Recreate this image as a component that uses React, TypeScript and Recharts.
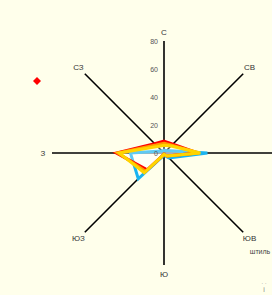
import React from 'react';
import {
  RadarChart,
  Radar,
  PolarGrid,
  PolarAngleAxis,
  PolarRadiusAxis,
  Legend,
  Customized,
} from 'recharts';

const directions = ['С', 'СВ', 'В', 'ЮВ', 'Ю', 'ЮЗ', 'З', 'СЗ'];
const seriesRed = [8.5, 9, 24, 3, 1, 17, 34, 9.5];
const seriesOrange = [7, 8, 25, 3, 1, 18.5, 33, 8];
const seriesYellow = [5.5, 7, 26, 3, 1, 20, 32, 6.5];
const seriesCyan = [2, 2.5, 31, 5, 1.5, 26, 24, 2];
const radiusTicks = [0, 20, 40, 60, 80];
const calmLabel = 'штиль';

const data = directions.map((d, i) => ({
  dir: d,
  red: seriesRed[i],
  orange: seriesOrange[i],
  yellow: seriesYellow[i],
  cyan: seriesCyan[i],
}));

const W = 272;
const H = 295;
const CX = 164;
const CY = 153;
const R = 112;
const FONT = '"Liberation Sans", Arial, sans-serif';

const AngleTick = (props: any) => {
  const a = (props.payload.coordinate * Math.PI) / 180;
  const r = R + 9;
  const x = CX + r * Math.cos(a);
  const y = CY - r * Math.sin(a);
  if (x > W - 2 || x < 2 || y < 2 || y > H - 2) return null;
  return (
    <text x={x} y={y} textAnchor="middle" dominantBaseline="central" fontSize={8} fill="#333" fontFamily={FONT}>
      {props.payload.value}
    </text>
  );
};

const RadiusTick = (props: any) => (
  <text x={props.x - 6} y={props.y} textAnchor="end" dominantBaseline="central" fontSize={7} fill="#555" fontFamily={FONT}>
    {props.payload.value}
  </text>
);

const LegendDiamond = () => (
  <svg width={10} height={10} style={{ display: 'block' }}>
    <path d="M5 1 L9 5 L5 9 L1 5 Z" fill="#ff0000" />
  </svg>
);

const CalmText = () => (
  <g fontFamily={FONT} fill="#444">
    <text x={260} y={251} textAnchor="middle" dominantBaseline="central" fontSize={7}>
      {calmLabel}
    </text>
    <text x={264} y={283} textAnchor="middle" dominantBaseline="central" fontSize={6} fill="#888">
      {'·   ·'}
    </text>
    <text x={264} y={289} textAnchor="middle" dominantBaseline="central" fontSize={7} fill="#888">
      i
    </text>
  </g>
);

export default function App() {
  return (
    <div style={{ position: 'absolute', left: 0, top: 0, width: W, height: H, background: '#ffffeb', overflow: 'hidden' }}>
      <RadarChart
        width={W}
        height={H}
        data={data}
        cx={CX}
        cy={CY}
        outerRadius={R}
        margin={{ top: 0, right: 0, bottom: 0, left: 0 }}
      >
        <PolarGrid gridType="polygon" polarRadius={[]} stroke="#000" strokeWidth={1.6} strokeOpacity={1} />
        <PolarAngleAxis dataKey="dir" tick={<AngleTick />} axisLine={false} tickLine={false} />
        <PolarRadiusAxis
          angle={90}
          domain={[0, 80]}
          ticks={radiusTicks as any}
          tick={<RadiusTick />}
          axisLine={false}
          tickLine={false}
        />
        <Radar dataKey="cyan" stroke="#1ab4f0" strokeWidth={3} fill="#ffffff" fillOpacity={0.4} isAnimationActive={false} />
        <Radar dataKey="red" stroke="#ff0000" strokeWidth={3} fill="#ffffff" fillOpacity={0.3} isAnimationActive={false} />
        <Radar dataKey="orange" stroke="#ff9a00" strokeWidth={3} fill="none" isAnimationActive={false} />
        <Radar dataKey="yellow" stroke="#ffd400" strokeWidth={3} fill="none" isAnimationActive={false} />
        <Legend content={<LegendDiamond />} wrapperStyle={{ position: 'absolute', left: 32, top: 76, width: 10, height: 10 }} />
        <Customized component={<CalmText />} />
      </RadarChart>
    </div>
  );
}
